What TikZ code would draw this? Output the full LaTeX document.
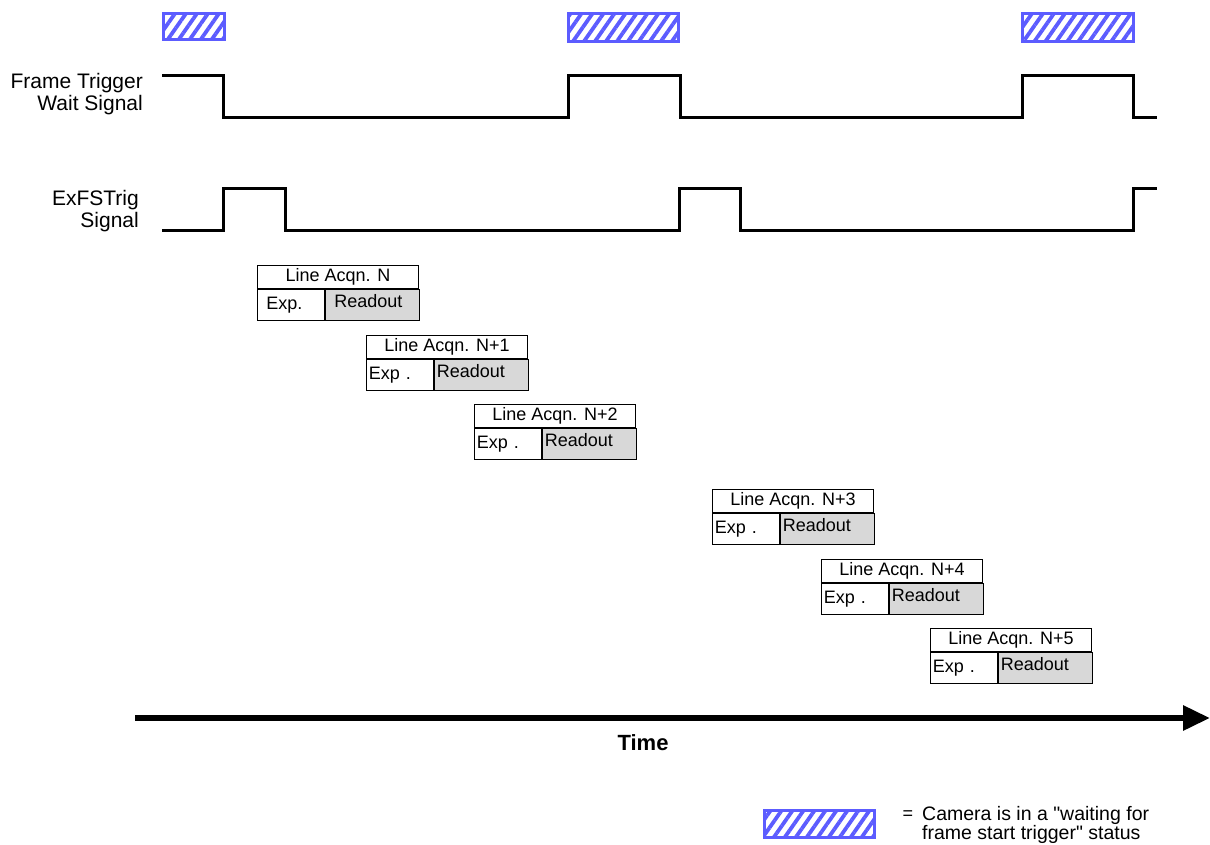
\documentclass[tikz,border=0pt]{standalone}
\usepackage{fontspec}
\setmainfont{Liberation Sans}
\newfontfamily\legfont{Liberation Sans}
\usetikzlibrary{
    arrows.meta,
    positioning,
    patterns.meta
}
\definecolor{waitBlue}{RGB}{92,92,255}
\definecolor{roGray}{RGB}{216,216,216}
\tikzset{
  wave/.style     = {line width=3pt, line join=miter},
  waitbox/.style  = {draw=waitBlue, line width=3pt, pattern color=waitBlue,
                     pattern={Lines[angle=55,distance=9pt,line width=3.8pt]}},
  siglabel/.style = {anchor=east, align=right, inner sep=0pt,
                     font=\fontsize{21}{22}\selectfont},
  titlecell/.style= {draw, line width=0.9pt, minimum width=161pt, minimum height=23pt,
                     inner sep=0pt, font=\fontsize{18}{20}\selectfont},
  expcell/.style  = {draw, line width=0.9pt, minimum height=31pt, inner ysep=0pt,
                     inner xsep=2pt, text width=63pt, align=left,
                     font=\fontsize{18}{20}\selectfont},
  rocell/.style   = {draw, line width=0.9pt, fill=roGray, minimum height=31pt,
                     inner ysep=0pt, inner xsep=3pt, text width=88pt, align=left,
                     text depth=8pt, font=\fontsize{18}{20}\selectfont},
  timearr/.style  = {line width=6pt, -{Triangle[length=27pt,width=24pt]}}
}
% one line acquisition: name, x, y, suffix, exposure text, first-box padding
\newcommand{\acqn}[6]{%
  \node[titlecell, anchor=north west] (#1t) at (#2,#3) {Line Acqn. N#4};
  \node[expcell, anchor=north west, inner xsep=#6pt, text width={67-2*#6}]
    (#1e) at (#1t.south west) {#5};
  \node[rocell, anchor=north west, inner xsep=#6pt, text width={94-2*#6}]
    (#1r) at (#1e.north east) {Readout};
}

\begin{document}
\begin{tikzpicture}[x=1pt, y=-1pt]
\useasboundingbox (0,0) rectangle (1210,844);

% waiting status
\draw[waitbox] (163,13) rectangle (224,39);
\draw[waitbox] (568,13) rectangle (678,41);
\draw[waitbox] (1022,13) rectangle (1133,41);

% signals
\node[siglabel] (waitlbl) at (143,94) {Frame Trigger\\Wait Signal};
\node[siglabel] (trglbl) at (139,211) {ExFSTrig\\Signal};
\draw[wave] (162,75) -- (223,75) -- (223,117) -- (568,117) -- (568,75) -- (680,75)
  -- (680,117) -- (1022,117) -- (1022,75) -- (1133,75) -- (1133,117) -- (1157,117);
\draw[wave] (162,230) -- (223,230) -- (223,188) -- (285,188) -- (285,230) -- (679,230)
  -- (679,188) -- (740,188) -- (740,230) -- (1133,230) -- (1133,188) -- (1157,188);

% line acquisitions
\acqn{a0}{257}{265}{}{Exp.}{9}
\acqn{a1}{366}{335}{+1}{Exp .}{2.5}
\acqn{a2}{474}{404}{+2}{Exp .}{2.5}
\acqn{a3}{712}{489}{+3}{Exp .}{2.5}
\acqn{a4}{821}{559}{+4}{Exp .}{2.5}
\acqn{a5}{930}{628}{+5}{Exp .}{2.5}

% time axis
\coordinate (tstart) at (135,718);
\coordinate (tend) at (1210,718);
\draw[timearr] (tstart) -- (tend);
\node[font=\fontsize{22}{24}\selectfont\bfseries] (timelbl) at (643,743) {Time};

% legend
\draw[waitbox] (764,810) rectangle (874,837);
\node[anchor=west, font=\fontsize{18}{20}\selectfont] (eqlbl) at (899,815) {=};
\node[anchor=north west, align=left, inner sep=0pt,
      font=\legfont\fontsize{19.5}{16.5}\selectfont] (legtxt) at (922,806)
      {Camera is in a "waiting for\\frame start trigger" status};
\end{tikzpicture}
\end{document}
